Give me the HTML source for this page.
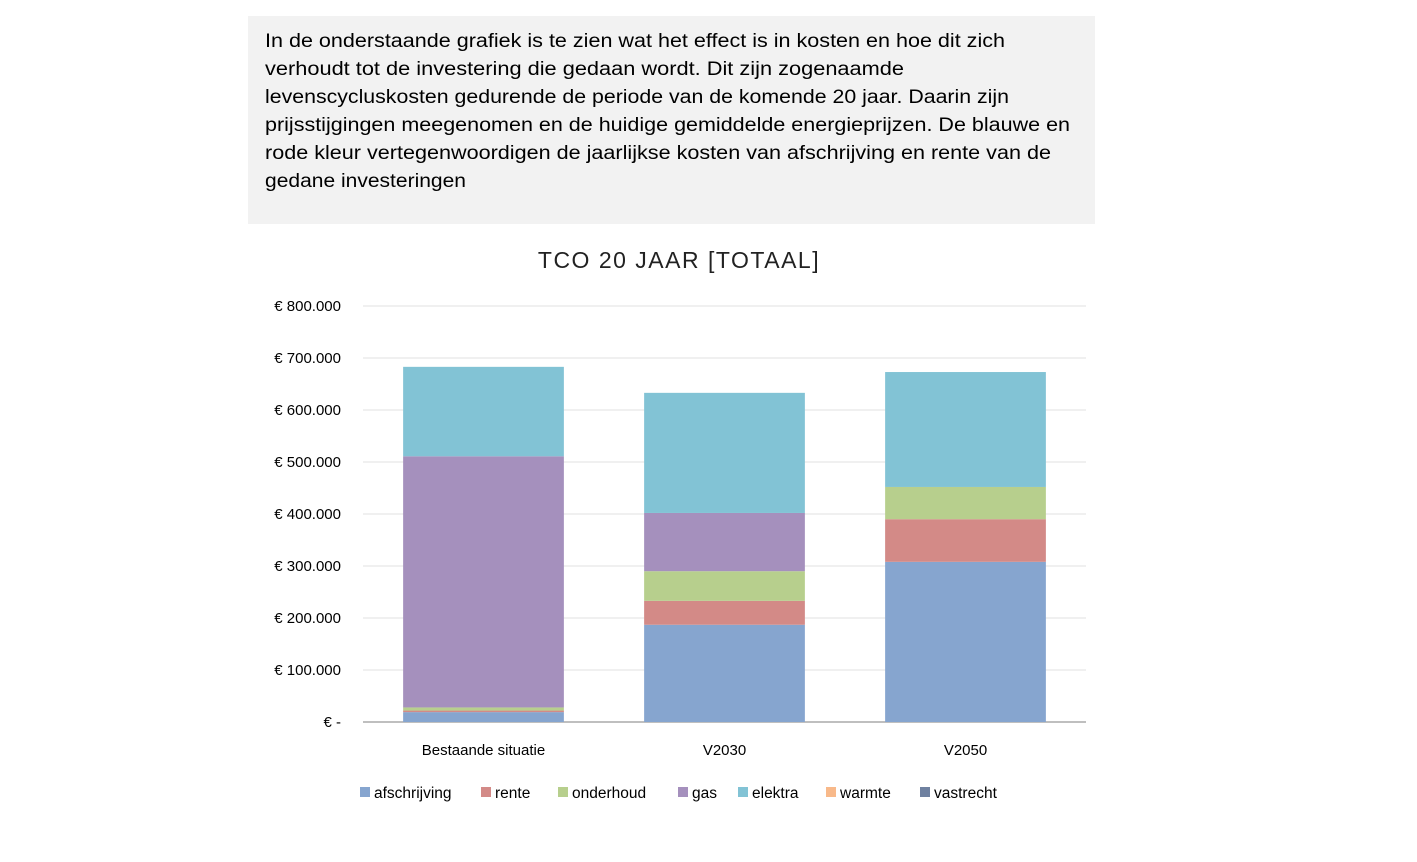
<!DOCTYPE html>
<html><head><meta charset="utf-8"><style>
body{margin:0;background:#fff;}
svg{display:block;font-family:"Liberation Sans",sans-serif;}
</style></head><body>
<svg width="1417" height="862" viewBox="0 0 1417 862">
<rect x="248" y="16" width="847" height="208" fill="#f2f2f2"/>
<g font-size="19" fill="#000">
<text x="265" y="47" textLength="740" lengthAdjust="spacingAndGlyphs">In de onderstaande grafiek is te zien wat het effect is in kosten en hoe dit zich</text>
<text x="265" y="75" textLength="639" lengthAdjust="spacingAndGlyphs">verhoudt tot de investering  die gedaan wordt.  Dit zijn zogenaamde</text>
<text x="265" y="103" textLength="744" lengthAdjust="spacingAndGlyphs">levenscycluskosten gedurende de periode  van de komende 20 jaar. Daarin zijn</text>
<text x="265" y="131" textLength="805" lengthAdjust="spacingAndGlyphs">prijsstijgingen  meegenomen en de huidige  gemiddelde energieprijzen.  De blauwe en</text>
<text x="265" y="159" textLength="786" lengthAdjust="spacingAndGlyphs">rode kleur vertegenwoordigen  de jaarlijkse kosten van afschrijving  en rente van de</text>
<text x="265" y="187" textLength="201" lengthAdjust="spacingAndGlyphs">gedane investeringen</text>
</g>
<text x="679" y="268" font-size="23" text-anchor="middle" letter-spacing="1.5" fill="#222">TCO  20 JAAR [TOTAAL]</text>
<g id="grid"></g>
<g id="bars"></g>
<g id="labels"></g>
<g id="legend"></g>
</svg>
<script>
const categories=["Bestaande situatie","V2030","V2050"];
const seriesNames=["afschrijving","rente","onderhoud","gas","elektra","warmte","vastrecht"];
const afschrijving=[19,187,308];
const rente=[3,46,82];
const onderhoud=[6,57,62];
const gas=[483,112,0];
const elektra=[172,231,221];
const warmte=[0,0,0];
const vastrecht=[0,0,0];
const yTicks=[0,100,200,300,400,500,600,700,800];
const yTickLabels=["€ -","€ 100.000","€ 200.000","€ 300.000","€ 400.000","€ 500.000","€ 600.000","€ 700.000","€ 800.000"];
const colors=["#86a5cf","#d38a87","#b7cf8d","#a590bd","#82c3d5","#f8b98a","#6f81a0"];

const NS="http://www.w3.org/2000/svg";
const x0=363,x1=1086,yBase=722,yTop=306,yMax=800;
function y(v){return yBase-(v/yMax)*(yBase-yTop);}
function bandX(i){const w=(x1-x0)/categories.length;return x0+w*i;}
const bandW=(x1-x0)/categories.length, barW=bandW*0.667;
function mk(tag,attrs,parent){const e=document.createElementNS(NS,tag);for(const k in attrs)e.setAttribute(k,attrs[k]);parent.appendChild(e);return e;}
const grid=document.getElementById('grid');
yTicks.forEach((t,i)=>{
  const l=mk('line',{x1:x0,x2:x1,y1:y(t),y2:y(t),stroke:t===0?'#bfbfbf':'#e6e6e6','stroke-width':t===0?2:1.3},grid);
  
  
  const tx=mk('text',{x:341,y:y(t)+5,'font-size':15,'text-anchor':'end',fill:'#000'},grid);
  tx.textContent=yTickLabels[i];
  
  
});
const series=[afschrijving,rente,onderhoud,gas,elektra,warmte,vastrecht];
const bars=document.getElementById('bars');
categories.forEach((c,i)=>{
  let acc=0;
  const bx=bandX(i)+(bandW-barW)/2;
  series.forEach((s,k)=>{
    const v=s[i];
    if(v>0){
      const r=mk('rect',{x:bx,y:y(acc+v),width:barW,height:y(acc)-y(acc+v),fill:colors[k]},bars);
      
      
    }
    acc+=v;
  });
  const t=mk('text',{x:bandX(i)+bandW/2,y:755,'font-size':15,'text-anchor':'middle',fill:'#000'},document.getElementById('labels'));
  t.textContent=c;
  
  
});
const legend=document.getElementById('legend');
const legX=[360,481,558,678,738,826,920];
seriesNames.forEach((n,k)=>{
  const g=mk('g',{},legend);
  
  
  mk('rect',{x:legX[k],y:787,width:10,height:10,fill:colors[k]},g);
  const t=mk('text',{x:legX[k]+14,y:798,'font-size':15.5,fill:'#000'},g);
  t.textContent=n;
});
</script>
</body></html>
